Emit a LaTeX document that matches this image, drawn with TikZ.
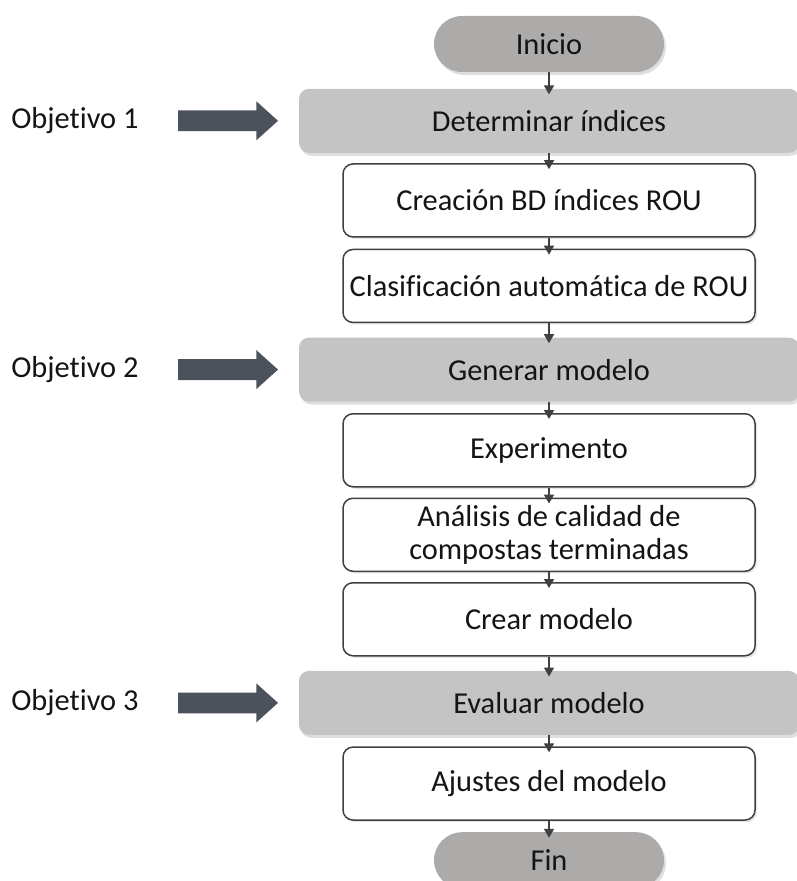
\documentclass[tikz,border=0pt]{standalone}
\usepackage{fontspec}
\setmainfont{Carlito}[Ligatures=NoCommon]
\usetikzlibrary{positioning,shapes.arrows,shadows,arrows.meta}
\definecolor{pillgray}{RGB}{173,170,170}
\definecolor{boxgray}{RGB}{196,196,196}
\definecolor{arrowslate}{RGB}{75,82,92}
\definecolor{linegray}{RGB}{64,64,64}
\definecolor{textblack}{RGB}{20,20,20}

\begin{document}
\begin{tikzpicture}
\tikzstyle{every node}=[font=\fontsize{15.2}{16.5}\selectfont, text=textblack]
\tikzstyle{term}=[rectangle, rounded corners=14pt, minimum width=115pt, minimum height=28pt, fill=pillgray, drop shadow={opacity=0.25, shadow xshift=1pt, shadow yshift=-1.5pt}]
\tikzstyle{goal}=[rectangle, rounded corners=5pt, minimum width=250pt, minimum height=32pt, fill=boxgray, drop shadow={opacity=0.25, shadow xshift=1pt, shadow yshift=-1.5pt}]
\tikzstyle{task}=[rectangle, rounded corners=5pt, minimum width=206pt, minimum height=36.5pt, inner sep=1.5pt, align=center, draw=linegray, line width=0.75pt, fill=white, drop shadow={opacity=0.2, shadow xshift=1pt, shadow yshift=-1pt}]
\tikzstyle{connect}=[-{Triangle[width=5pt,length=4.5pt]}, line width=0.8pt, draw=linegray, shorten >=-3pt]
\tikzstyle{bigarrow}=[single arrow, fill=arrowslate, minimum height=50pt, inner sep=5pt, single arrow head extend=4.5pt, single arrow tip angle=84]

\useasboundingbox (0,0) rectangle (398pt,-440.5pt);

    % pasos del diagrama
  \node[term] (ini) at (274.5pt,-22pt) {Inicio};
  \node[goal] (det) [below=8pt of ini] {Determinar índices};
  \node[task] (bdrou) [below=5pt of det] {Creación BD índices ROU};
  \node[task] (clas) [below=5.5pt of bdrou] {Clasificación automática de ROU};
  \node[goal] (gen) [below=7pt of clas] {Generar modelo};
  \node[task] (exper) [below=5.5pt of gen] {Experimento};
  \node[task] (anal) [below=5pt of exper] {Análisis de calidad de\\compostas terminadas};
  \node[task] (crear) [below=5pt of anal] {Crear modelo};
  \node[goal] (eval) [below=7pt of crear] {Evaluar modelo};
  \node[task] (ajus) [below=5.5pt of eval] {Ajustes del modelo};
  \node[term] (fin) [below=5.5pt of ajus] {Fin};

    % objetivos
  \node[bigarrow] (arr1) [left=10pt of det] {};
  \node (obj1) [left=16pt of arr1] {Objetivo 1};
  \node[bigarrow] (arr2) [left=10pt of gen] {};
  \node (obj2) [left=16pt of arr2] {Objetivo 2};
  \node[bigarrow] (arr3) [left=10pt of eval] {};
  \node (obj3) [left=16pt of arr3] {Objetivo 3};

    % flechas
  \path (ini) edge [connect] (det)
        (det) edge [connect] (bdrou)
        (bdrou) edge [connect] (clas)
        (clas) edge [connect] (gen)
        (gen) edge [connect] (exper)
        (exper) edge [connect] (anal)
        (anal) edge [connect] (crear)
        (crear) edge [connect] (eval)
        (eval) edge [connect] (ajus)
        (ajus) edge [connect] (fin);

\end{tikzpicture}
\end{document}
